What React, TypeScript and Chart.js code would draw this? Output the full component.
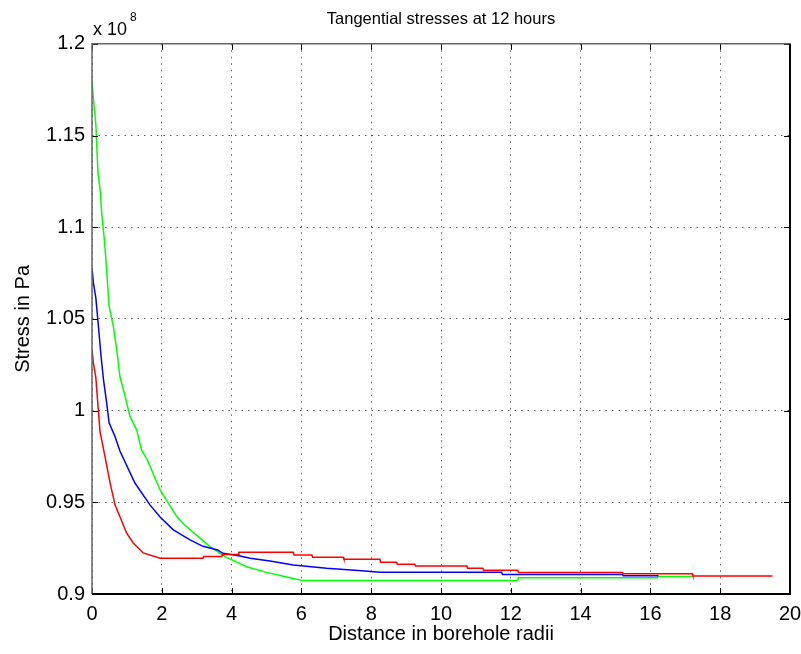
import React, { useEffect, useRef } from "react";
import { Chart, registerables } from "chart.js";

Chart.register(...registerables);

// ---- Data (stress in units of 1e8 Pa vs distance in borehole radii) ----
const redX = [0, 0.04, 0.11, 0.17, 0.23, 0.33, 0.52, 0.66, 0.99, 1.18, 1.47, 1.95, 3.18, 3.2, 3.72, 3.74, 4.19, 4.21, 5.77, 5.79, 6.3, 6.32, 7.2, 7.22, 8.25, 8.27, 8.73, 8.75, 9.25, 9.27, 10.74, 10.76, 11.2, 11.22, 12.2, 12.22, 15.2, 15.22, 17.2, 17.22, 19.5];
const redY = [1.033, 1.026, 1.018, 1.003, 0.9885, 0.979, 0.9605, 0.9486, 0.9333, 0.9278, 0.9224, 0.9195, 0.9195, 0.9204, 0.9204, 0.9216, 0.9216, 0.9227, 0.9227, 0.9213, 0.9213, 0.92, 0.92, 0.9189, 0.9189, 0.9173, 0.9173, 0.9162, 0.9162, 0.9153, 0.9153, 0.914, 0.914, 0.9129, 0.9129, 0.9117, 0.9117, 0.911, 0.911, 0.9098, 0.9098];

const blueX = [0, 0.04, 0.11, 0.18, 0.26, 0.33, 0.42, 0.49, 0.66, 0.8, 1.23, 1.66, 1.95, 2.33, 2.81, 3.18, 3.6, 3.75, 4.24, 4.53, 5.1, 5.77, 6.72, 7.73, 8.25, 11.74, 11.76, 15.2, 15.22, 16.23];
const blueY = [1.0778, 1.0697, 1.0615, 1.0468, 1.0295, 1.0167, 1.0042, 0.9933, 0.9858, 0.978, 0.9605, 0.9486, 0.942, 0.935, 0.9295, 0.926, 0.924, 0.9222, 0.9207, 0.9195, 0.918, 0.9158, 0.914, 0.9127, 0.9118, 0.9118, 0.9107, 0.9107, 0.91, 0.91];

const greenX = [0, 0.05, 0.11, 0.17, 0.24, 0.28, 0.35, 0.4, 0.49, 0.61, 0.71, 0.8, 0.95, 1.09, 1.28, 1.42, 1.59, 1.95, 2.43, 2.6, 3.38, 3.81, 4.43, 5.0, 5.67, 6.05, 12.2, 12.22, 16.2, 16.22, 17.2];
const greenY = [1.18, 1.168, 1.156, 1.13, 1.119, 1.107, 1.094, 1.082, 1.057, 1.046, 1.033, 1.0186, 1.0077, 0.9967, 0.9895, 0.9786, 0.973, 0.9567, 0.9422, 0.9386, 0.9258, 0.9204, 0.9149, 0.9118, 0.9089, 0.9073, 0.9073, 0.9088, 0.9088, 0.9096, 0.9096];

const xTicks = [0, 2, 4, 6, 8, 10, 12, 14, 16, 18, 20];
const xTickLabels = ["0", "2", "4", "6", "8", "10", "12", "14", "16", "18", "20"];
const yTicks = [0.9, 0.95, 1, 1.05, 1.1, 1.15, 1.2];
const yTickLabels = ["0.9", "0.95", "1", "1.05", "1.1", "1.15", "1.2"];

const titleText = "Tangential stresses at 12 hours";
const xTitle = "Distance in borehole radii";
const yTitle = "Stress in Pa";
const exponentBase = "x 10";
const exponentPower = "8";

const FONT = "'Liberation Sans', Arial, Helvetica, sans-serif";

const toPoints = (xs: number[], ys: number[]) => xs.map((x, i) => ({ x, y: ys[i] }));

const framePlugin = {
  id: "matlabFrame",
  afterDatasetsDraw(chart: any) {
    const { ctx, chartArea, scales } = chart;
    const { left, right, top, bottom } = chartArea;
    const xs = scales.x;
    const ys = scales.y;
    ctx.save();
    ctx.strokeStyle = "#000";
    ctx.lineWidth = 1;
    ctx.beginPath();
    xTicks.forEach((v) => {
      const p = Math.round(xs.getPixelForValue(v)) + 0.5;
      ctx.moveTo(p, bottom);
      ctx.lineTo(p, bottom - 6);
      ctx.moveTo(p, top);
      ctx.lineTo(p, top + 6);
    });
    yTicks.forEach((v) => {
      const p = Math.round(ys.getPixelForValue(v)) + 0.5;
      ctx.moveTo(left, p);
      ctx.lineTo(left + 6, p);
      ctx.moveTo(right, p);
      ctx.lineTo(right - 6, p);
    });
    ctx.stroke();

    // frame: top/left lighter, bottom/right dark
    ctx.lineWidth = 1.5;
    ctx.strokeStyle = "#666";
    ctx.beginPath();
    ctx.moveTo(left, bottom);
    ctx.lineTo(left, top);
    ctx.lineTo(right, top);
    ctx.stroke();
    ctx.lineWidth = 2;
    ctx.strokeStyle = "#000";
    ctx.beginPath();
    ctx.moveTo(left, bottom);
    ctx.lineTo(right, bottom);
    ctx.lineTo(right, top);
    ctx.stroke();

    // exponent label
    ctx.fillStyle = "#000";
    ctx.textAlign = "left";
    ctx.textBaseline = "alphabetic";
    ctx.font = `18px ${FONT}`;
    ctx.fillText(exponentBase, left + 1, top - 9);
    const w = ctx.measureText(exponentBase).width;
    ctx.font = `12px ${FONT}`;
    ctx.fillText(exponentPower, left + 1 + w + 3, top - 23);
    ctx.restore();
  },
};

export default function App() {
  const canvasRef = useRef<HTMLCanvasElement | null>(null);

  useEffect(() => {
    const canvas = canvasRef.current;
    if (!canvas) return;
    const gridColor = "rgba(0,0,0,0.65)";
    const chart = new Chart(canvas, {
      type: "line",
      data: {
        datasets: [
          { label: "red", data: toPoints(redX, redY), borderColor: "#ff0000", backgroundColor: "#ff0000" },
          { label: "blue", data: toPoints(blueX, blueY), borderColor: "#0000ff", backgroundColor: "#0000ff" },
          { label: "green", data: toPoints(greenX, greenY), borderColor: "#00ff00", backgroundColor: "#00ff00" },
        ],
      },
      options: {
        animation: false,
        responsive: false,
        layout: { padding: { top: 0, left: 0, right: 0, bottom: 0 } },
        elements: {
          point: { radius: 0, hoverRadius: 0 },
          line: { borderWidth: 1.5, tension: 0, fill: false },
        },
        plugins: {
          legend: { display: false },
          tooltip: { enabled: false },
          title: {
            display: true,
            fullSize: false,
            text: titleText,
            color: "#000",
            font: { family: FONT, size: 16.5, weight: "normal" },
            padding: { top: 10, bottom: 14 },
          },
        },
        scales: {
          x: {
            type: "linear",
            min: 0,
            max: 20,
            afterBuildTicks: (s: any) => {
              s.ticks = xTicks.map((v) => ({ value: v }));
            },
            afterFit: (s: any) => {
              s.height = 60;
              s.paddingRight = 11;
              s.paddingLeft = 0;
            },
            ticks: {
              autoSkip: false,
              maxRotation: 0,
              color: "#000",
              padding: 8,
              font: { family: FONT, size: 20 },
              callback: (_v: any, i: number) => xTickLabels[i],
            },
            grid: { color: gridColor, lineWidth: 1, drawTicks: false },
            border: { display: false, dash: [1.5, 5] },
            title: {
              display: true,
              text: xTitle,
              color: "#000",
              font: { family: FONT, size: 20 },
              padding: { top: 0, bottom: 8 },
            },
          },
          y: {
            type: "linear",
            min: 0.9,
            max: 1.2,
            afterBuildTicks: (s: any) => {
              s.ticks = yTicks.map((v) => ({ value: v }));
            },
            afterFit: (s: any) => {
              s.width = 92;
            },
            ticks: {
              autoSkip: false,
              color: "#000",
              padding: 7,
              font: { family: FONT, size: 20 },
              callback: (_v: any, i: number) => yTickLabels[i],
            },
            grid: { color: gridColor, lineWidth: 1, drawTicks: false },
            border: { display: false, dash: [1.5, 5] },
            title: {
              display: true,
              text: yTitle,
              color: "#000",
              font: { family: FONT, size: 20 },
              padding: { top: 11, bottom: 0 },
            },
          },
        },
      },
      plugins: [framePlugin],
    } as any);
    return () => chart.destroy();
  }, []);

  return (
    <div style={{ position: "fixed", left: 0, top: 0, width: 801, height: 654, background: "#fff" }}>
      <canvas ref={canvasRef} width={801} height={654} style={{ display: "block" }} />
    </div>
  );
}
